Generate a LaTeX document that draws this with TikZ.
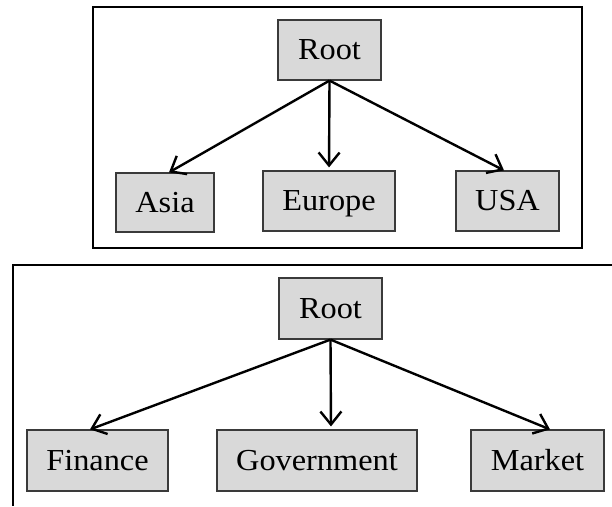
\documentclass[tikz,border=0pt]{standalone}
\usepackage{fontspec}
\usepackage{graphicx}
\setmainfont{Liberation Serif}
\usetikzlibrary{arrows.meta}
\definecolor{boxfill}{HTML}{D9D9D9}
\definecolor{boxline}{HTML}{3A3A3A}
% labels are set slightly wide
\newcommand{\widelabel}[1]{\scalebox{1.06}[1]{#1}}
\tikzset{
  catbox/.style={draw=boxline, line width=1.2pt, fill=boxfill, inner sep=0pt,
    text height=19.5pt, text depth=0pt,
    font=\fontsize{30.5}{34}\selectfont},
  frameline/.style={line width=1.8pt, black},
  link/.style={line width=2.4pt, -{Straight Barb[length=13pt,width=21pt,line width=2.4pt]}}
}
\begin{document}
\begin{tikzpicture}[x=1pt,y=-1pt]
  \useasboundingbox (0,0) rectangle (612,506);

  % upper panel: regions
  \draw[frameline] (93,7) rectangle (582,248);
  \node[catbox, minimum width=103pt, minimum height=60pt] (r1) at (329.5,50) {\widelabel{Root}};
  \node[catbox, minimum width=98pt, minimum height=59pt] (asia) at (165,202.5) {\widelabel{Asia}};
  \node[catbox, minimum width=132pt, minimum height=60pt] (europe) at (329,201) {\widelabel{Europe}};
  \node[catbox, minimum width=103pt, minimum height=60pt] (usa) at (507.5,201) {\widelabel{USA}};
  \draw[link] (r1.south) -- ([xshift=4pt]asia.north);
  \draw[link, shorten >=3pt] (r1.south) -- (europe.north);
  \draw[link] (r1.south) -- ([xshift=-3.5pt]usa.north);

  % lower panel: sectors (open at the right and bottom)
  \draw[frameline] (612,265) -- (13,265) -- (13,506);
  \node[catbox, minimum width=103pt, minimum height=61pt] (r2) at (330.5,308.5) {\widelabel{Root}};
  \node[catbox, minimum width=141pt, minimum height=61pt] (fin) at (97.5,460.5) {\widelabel{Finance}};
  \node[catbox, minimum width=200pt, minimum height=61pt] (gov) at (317,460.5) {\widelabel{Government}};
  \node[catbox, minimum width=133pt, minimum height=61pt] (mkt) at (537.5,460.5) {\widelabel{Market}};
  \draw[link] (r2.south) -- ([xshift=-7.5pt]fin.north);
  \draw[link, shorten >=3pt] (r2.south) -- ([xshift=14pt]gov.north);
  \draw[link] (r2.south) -- ([xshift=12.5pt]mkt.north);
\end{tikzpicture}
\end{document}
